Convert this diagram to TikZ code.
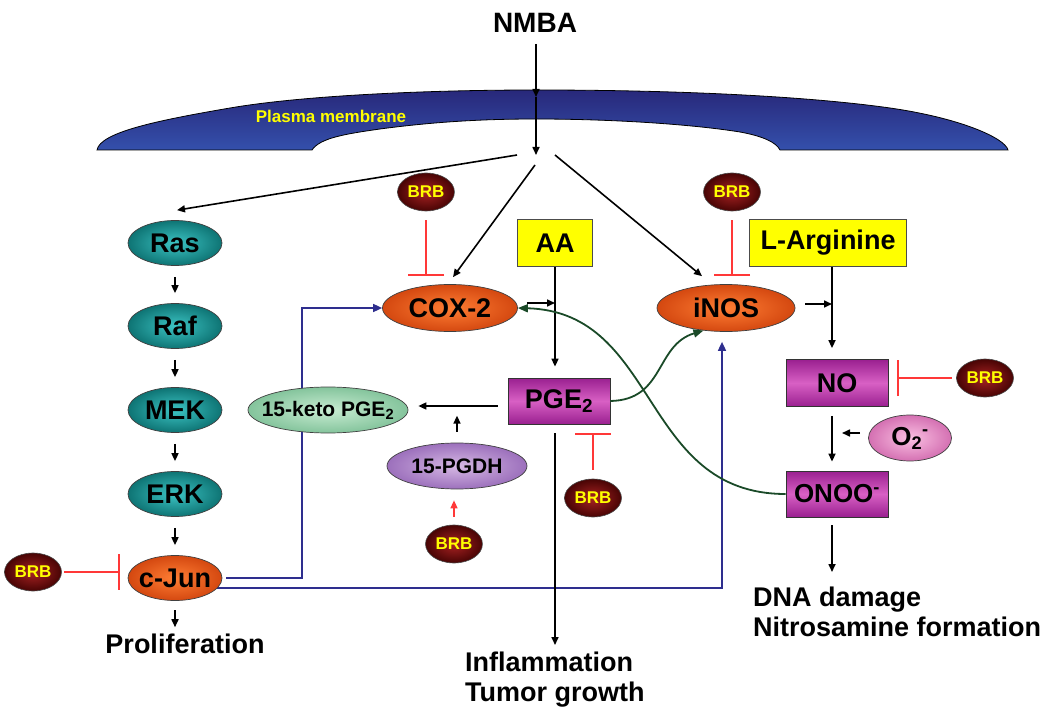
\documentclass[tikz,border=0pt]{standalone}
\usepackage{fontspec}
\setmainfont{Liberation Sans}
\usetikzlibrary{shapes.geometric,arrows.meta,calc,backgrounds}
\newcommand{\zw}[1]{\makebox[0pt]{#1}}
\definecolor{memtop}{HTML}{28287A}
\definecolor{membot}{HTML}{3450AC}
\definecolor{tealin}{HTML}{3CC4C4}
\definecolor{tealout}{HTML}{0E7474}
\definecolor{orin}{HTML}{FF7E34}
\definecolor{orout}{HTML}{D44810}
\definecolor{brbin}{HTML}{A82222}
\definecolor{brbout}{HTML}{480404}
\definecolor{magdark}{HTML}{9A2090}
\definecolor{maglight}{HTML}{D860C4}
\definecolor{ketoin}{HTML}{C8ECD2}
\definecolor{ketoout}{HTML}{84C49C}
\definecolor{pgdhin}{HTML}{D6B8E4}
\definecolor{pgdhout}{HTML}{9C70BC}
\definecolor{o2in}{HTML}{FAC0E2}
\definecolor{o2out}{HTML}{D470B2}
\definecolor{inhred}{HTML}{FF3838}
\definecolor{bline}{HTML}{2E2E8E}
\definecolor{gline}{HTML}{1A4A28}
\definecolor{ylw}{HTML}{FFFF00}
\tikzset{
  bigfont/.style={font=\fontsize{27}{30}\selectfont\bfseries},
  ell/.style={ellipse, inner sep=0pt, draw=black!75, line width=0.7pt, bigfont},
  tealell/.style={ell, inner color=tealin, outer color=tealout, minimum width=94pt, minimum height=45pt},
  orell/.style={ell, inner color=orin, outer color=orout},
  brb/.style={ellipse, inner sep=0pt, draw=black!70, line width=0.6pt, inner color=brbin, outer color=brbout,
    minimum width=57pt, minimum height=38pt, text=ylw, font=\fontsize{17}{20}\selectfont\bfseries},
  magbox/.style={rectangle, inner sep=0pt, draw=black!80, line width=0.8pt, top color=magdark, bottom color=magdark,
    middle color=maglight, minimum width=102pt, minimum height=46pt, bigfont},
  ybox/.style={rectangle, inner sep=0pt, draw=black!70, line width=0.8pt, fill=ylw, minimum height=47pt, bigfont},
  outtext/.style={inner sep=0pt, bigfont},
  arr/.style={draw=black, line width=1.6pt, -{Triangle[length=8pt,width=7pt]}},
  inh/.style={draw=inhred, line width=1.4pt, -{Bar[width=36pt,line width=1.6pt]}},
  redarr/.style={draw=inhred, line width=1.4pt, -{Triangle[length=8pt,width=7pt]}},
  bl/.style={draw=bline, line width=1.6pt, -{Triangle[length=9pt,width=8pt]}},
  gr/.style={draw=gline, line width=1.8pt, -{Triangle[length=10pt,width=8pt]}},
}
\begin{document}
\begin{tikzpicture}[x=1pt,y=-1pt]
\useasboundingbox (0,0) rectangle (1050,714);
% plasma membrane
\path[draw=black, line width=0.8pt, top color=memtop, bottom color=membot]
 (97,150) -- (312,150) .. controls (320,138) and (345,134) .. (380,129)
 .. controls (440,121) and (490,119) .. (536,119)
 .. controls (610,119) and (690,124) .. (740,132)
 .. controls (762,136) and (776,142) .. (780,150)
 -- (1008,150) .. controls (1005,138) and (960,118) .. (890,108)
 .. controls (820,98) and (700,90) .. (536,90)
 .. controls (420,90) and (300,96) .. (230,108)
 .. controls (160,120) and (100,132) .. (97,150) -- cycle;
\node[inner sep=0pt, text=ylw, font=\fontsize{17}{20}\selectfont\bfseries] (pm) at (331,116) {Plasma membrane};

% nodes
\node[outtext, font=\fontsize{28}{30}\selectfont\bfseries] (nmba) at (535,23) {NMBA};
\node[tealell] (ras) at (175,243) {Ras};
\node[tealell] (raf) at (175,326) {Raf};
\node[tealell] (mek) at (175,410) {MEK};
\node[tealell] (erk) at (175,494) {ERK};
\node[orell, minimum width=94pt, minimum height=45pt] (cjun) at (175,578) {\zw{c-Jun}};
\node[orell, minimum width=135pt, minimum height=47pt] (cox) at (450,308) {COX-2};
\node[orell, minimum width=138pt, minimum height=47pt] (inos) at (726,308) {iNOS};
\node[ybox, minimum width=75pt] (aa) at (555,243) {AA};
\node[ybox, minimum width=157pt] (larg) at (828,243) {L-Arginine};
\node[magbox] (pge) at (559,401) {PGE\textsubscript{2}};
\node[ell, inner color=ketoin, outer color=ketoout, minimum width=160pt, minimum height=46pt,
  font=\fontsize{21}{24}\selectfont\bfseries] (keto) at (328,410) {\zw{15-keto PGE\textsubscript{2}}};
\node[ell, inner color=pgdhin, outer color=pgdhout, minimum width=140pt, minimum height=46pt,
  font=\fontsize{21}{24}\selectfont\bfseries] (pgdh) at (457,466) {\zw{15-PGDH}};
\node[magbox, minimum height=47pt] (no) at (837,383) {NO};
\node[magbox, font=\fontsize{26}{30}\selectfont\bfseries] (onoo) at (837,494) {ONOO\textsuperscript{-}};
\node[ell, inner color=o2in, outer color=o2out, minimum width=83pt, minimum height=46pt,
  font=\fontsize{26}{30}\selectfont\bfseries] (o2) at (910,438) {\zw{O\textsubscript{2}\textsuperscript{-}}};
\node[brb] (brbcox) at (426,192) {BRB};
\node[brb] (brbinos) at (732,192) {BRB};
\node[brb] (brbno) at (985,378) {BRB};
\node[brb] (brbpge) at (593,498) {BRB};
\node[brb] (brbpgdh) at (454,544) {BRB};
\node[brb] (brbjun) at (33,572) {BRB};
\node[outtext, anchor=base] (prolif) at (185,653) {Proliferation};
\node[outtext, anchor=north west, align=left] (infl) at (465,652) {Inflammation\\Tumor growth};
\node[outtext, anchor=north west, align=left] (dna) at (753,587) {DNA damage\\Nitrosamine formation};

% coordinates
\coordinate (mem) at (536,97);
\coordinate (hub) at (536,155);
\coordinate (hubL) at (517,155);
\coordinate (hubC) at (535,165);
\coordinate (hubR) at (555,155);
\coordinate (aaj) at (555,303);
\coordinate (argj) at (832,304);
\coordinate (kj) at (302,308);

% NMBA entry
\draw[arr, shorten <=11pt] (nmba.south -| hub) -- (mem);
\draw[arr] (mem) -- (hub);
\draw[arr] (hubL) -- ($(ras.north)+(2,-10)$);
\draw[arr] (hubC) -- ($(cox.north)+(3,-7)$);
\draw[arr] (hubR) -- ($(inos.north)+(-24,-8)$);

% MAPK cascade
\draw[arr, shorten <=11pt, shorten >=10pt] (ras) -- (raf);
\draw[arr, shorten <=11pt, shorten >=10pt] (raf) -- (mek);
\draw[arr, shorten <=11pt, shorten >=10pt] (mek) -- (erk);
\draw[arr, shorten <=11pt, shorten >=10pt] (erk) -- (cjun);
\draw[arr, shorten <=9.5pt, shorten >=6pt] (cjun.south) -- (prolif.north -| cjun.south);

% COX-2 branch
\draw[arr, shorten <=9pt] (cox.east |- aaj) -- (aaj);
\draw[arr, shorten >=11pt] (aa.south) -- (aa.south |- pge.north);
\draw[arr, shorten <=10pt, shorten >=10pt] ([yshift=-5pt]pge.west) -- ([yshift=-5pt]pge.west -| keto.east);
\draw[arr, shorten <=11pt] (pgdh.north) -- ++(0,-27);
\draw[arr, shorten <=9pt, shorten >=7pt] (pge.south -| aaj) -- (infl.north -| aaj);

% iNOS branch
\draw[arr, shorten <=10pt] (inos.east |- argj) -- (argj);
\draw[arr, shorten >=11pt] (larg.south -| argj) -- (no.north -| argj);
\draw[arr, shorten <=9pt, shorten >=9pt] (no.south -| argj) -- (onoo.north -| argj);
\draw[arr, shorten <=8pt, shorten >=10pt] ([yshift=5pt]o2.west) -- ([yshift=5pt]o2.west -| argj);
\draw[arr, shorten <=8pt, shorten >=15pt] (onoo.south -| argj) -- (dna.north -| argj);

% BRB effects
\draw[inh, shorten <=9pt, shorten >=8.5pt] (brbcox.south) -- (brbcox.south |- cox.north);
\draw[inh, shorten <=9pt, shorten >=8.5pt] (brbinos.south) -- (brbinos.south |- inos.north);
\draw[inh, shorten <=4.5pt, shorten >=9pt] (brbno.west) -- (brbno.west -| no.east);
\draw[inh, shorten <=9pt, shorten >=9pt] (brbpge.north) -- (brbpge.north |- pge.south);
\draw[inh, shorten <=2.5pt, shorten >=8pt] (brbjun.east) -- (brbjun.east -| cjun.west);
\draw[redarr, shorten <=8pt, shorten >=11pt] (brbpgdh.north) -- (brbpgdh.north |- pgdh.south);

% feedback curves
\draw[gr] (pge.east) .. controls (665,400) and (655,345) .. (inos.225);
\draw[gr] (onoo.west) .. controls (640,494) and (660,312) .. (cox.east);

% c-Jun blue connectors
\begin{scope}[on background layer]
\draw[bl] ([xshift=4pt]cjun.east) -| (kj) -- (cox.west);
\draw[bl] ($(cjun.center)+(42,10)$) -| ($(inos.south)+(-4,10)$);
\end{scope}
\end{tikzpicture}
\end{document}
